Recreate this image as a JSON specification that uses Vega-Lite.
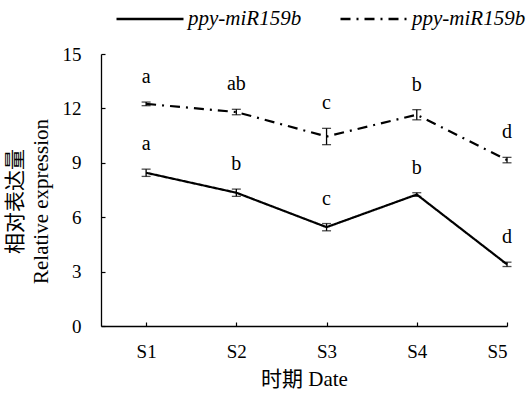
{
  "$schema": "https://vega.github.io/schema/vega-lite/v6.json",
  "autosize": "none",
  "width": 406,
  "height": 272,
  "padding": {"left": 101, "top": 54, "right": 25, "bottom": 68},
  "background": "white",
  "config": {
    "view": {"stroke": null},
    "font": "Liberation Serif",
    "axis": {
      "labelFont": "Liberation Serif",
      "titleFont": "Liberation Serif, Noto Sans CJK SC",
      "labelFontSize": 19,
      "titleFontSize": 21,
      "titleFontWeight": "normal",
      "labelColor": "black",
      "titleColor": "black",
      "domainColor": "black",
      "tickColor": "black",
      "domainWidth": 1.3,
      "tickWidth": 1.2,
      "grid": false
    }
  },
  "data": {
    "values": [
      {"t": 1, "stage": "S1", "series": "ppy-miR159b (1)", "mean": 8.45, "low": 8.25, "high": 8.65, "sig": "a"},
      {"t": 2, "stage": "S2", "series": "ppy-miR159b (1)", "mean": 7.35, "low": 7.15, "high": 7.55, "sig": "b"},
      {"t": 3, "stage": "S3", "series": "ppy-miR159b (1)", "mean": 5.45, "low": 5.25, "high": 5.65, "sig": "c"},
      {"t": 4, "stage": "S4", "series": "ppy-miR159b (1)", "mean": 7.25, "low": 7.15, "high": 7.35, "sig": "b"},
      {"t": 5, "stage": "S5", "series": "ppy-miR159b (1)", "mean": 3.4, "low": 3.28, "high": 3.52, "sig": "d"},
      {"t": 1, "stage": "S1", "series": "ppy-miR159b (2)", "mean": 12.25, "low": 12.15, "high": 12.35, "sig": "a"},
      {"t": 2, "stage": "S2", "series": "ppy-miR159b (2)", "mean": 11.8, "low": 11.65, "high": 11.95, "sig": "ab"},
      {"t": 3, "stage": "S3", "series": "ppy-miR159b (2)", "mean": 10.45, "low": 10.0, "high": 10.9, "sig": "c"},
      {"t": 4, "stage": "S4", "series": "ppy-miR159b (2)", "mean": 11.65, "low": 11.37, "high": 11.93, "sig": "b"},
      {"t": 5, "stage": "S5", "series": "ppy-miR159b (2)", "mean": 9.15, "low": 9.0, "high": 9.3, "sig": "d"}
    ]
  },
  "encoding": {
    "x": {
      "field": "t",
      "type": "quantitative",
      "scale": {"domain": [0.5, 5], "nice": false, "zero": false},
      "axis": {
        "values": [1, 2, 3, 4, 5],
        "labelExpr": "'S' + datum.value",
        "tickSize": -4,
        "labelPadding": 20,
        "title": "时期 Date",
        "titlePadding": 7
      }
    }
  },
  "layer": [
    {
      "mark": {"type": "line", "color": "black", "strokeWidth": 2.2},
      "encoding": {
        "y": {
          "field": "mean",
          "type": "quantitative",
          "title": ["相对表达量", "Relative expression"],
          "scale": {"domain": [0, 15], "nice": false},
          "axis": {
            "values": [0, 3, 6, 9, 12, 15],
            "tickSize": -4,
            "labelPadding": 24,
            "titleAngle": -90,
            "titleLineHeight": 26,
            "titleBaseline": "middle",
            "titleAlign": "center",
            "titleX": -86,
            "titleY": 147
          }
        },
        "strokeDash": {
          "field": "series",
          "type": "nominal",
          "scale": {"domain": ["ppy-miR159b (1)", "ppy-miR159b (2)"], "range": [[1, 0], [10, 6, 2, 6]]},
          "legend": {
            "orient": "none",
            "legendX": 14,
            "legendY": -70,
            "direction": "horizontal",
            "title": null,
            "symbolType": "stroke",
            "symbolSize": 4489,
            "symbolStrokeWidth": 2.5,
            "symbolStrokeColor": "black",
            "labelExpr": "'ppy-miR159b'",
            "labelFont": "Liberation Serif",
            "labelFontStyle": "italic",
            "labelFontSize": 21,
            "labelColor": "black",
            "labelOffset": 3,
            "columnPadding": 33
          }
        }
      }
    },
    {
      "mark": {"type": "errorbar", "ticks": {"size": 9, "color": "black", "thickness": 1.3}, "thickness": 1.3, "color": "black"},
      "encoding": {
        "y": {"field": "low", "type": "quantitative", "title": ["相对表达量", "Relative expression"]},
        "y2": {"field": "high"},
        "detail": {"field": "series"}
      }
    },
    {
      "mark": {"type": "text", "font": "Liberation Serif", "fontSize": 20, "baseline": "middle", "align": "center", "dy": -25, "color": "black"},
      "encoding": {
        "y": {"field": "high", "type": "quantitative", "title": ["相对表达量", "Relative expression"]},
        "text": {"field": "sig"}
      }
    }
  ]
}
